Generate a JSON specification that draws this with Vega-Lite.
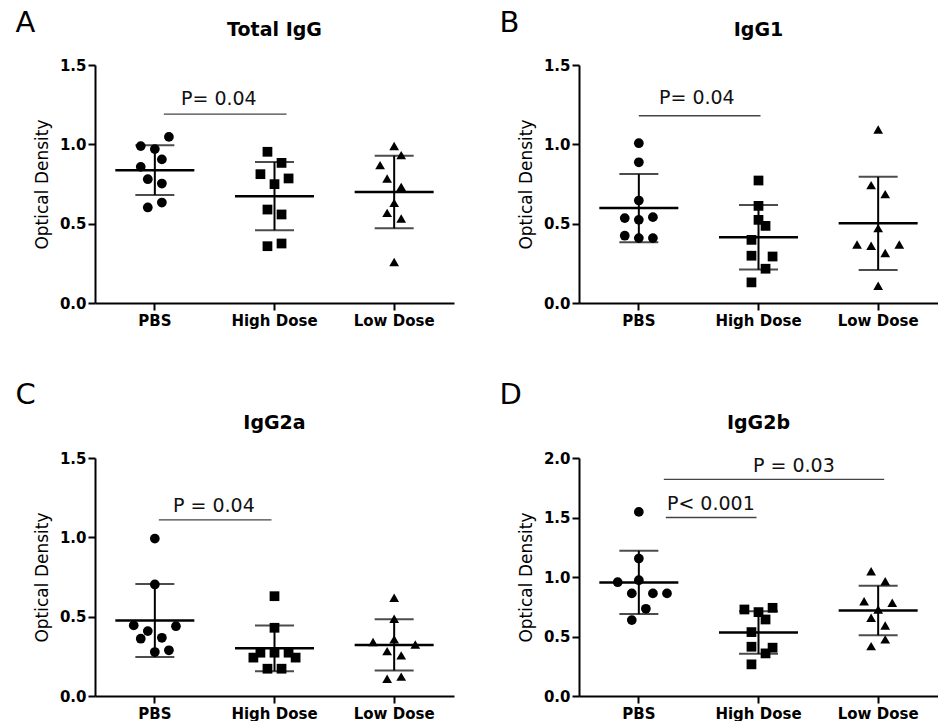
{
  "$schema": "https://vega.github.io/schema/vega-lite/v6.json",
  "padding": {"left": 15, "top": 9, "right": 0, "bottom": 0},
  "background": "white",
  "datasets": {
    "A": [
      {"group": "PBS", "slot": 2, "od": 1.047}, {"group": "PBS", "slot": -2, "od": 0.989}, {"group": "PBS", "slot": 0, "od": 0.970},
      {"group": "PBS", "slot": 1, "od": 0.905}, {"group": "PBS", "slot": -2, "od": 0.858}, {"group": "PBS", "slot": -1, "od": 0.780},
      {"group": "PBS", "slot": 1, "od": 0.753}, {"group": "PBS", "slot": -1, "od": 0.602}, {"group": "PBS", "slot": 1, "od": 0.633},
      {"group": "High Dose", "slot": -1, "od": 0.953}, {"group": "High Dose", "slot": 1, "od": 0.883}, {"group": "High Dose", "slot": -2, "od": 0.812},
      {"group": "High Dose", "slot": 2, "od": 0.785}, {"group": "High Dose", "slot": 0, "od": 0.749}, {"group": "High Dose", "slot": -1, "od": 0.589},
      {"group": "High Dose", "slot": 1, "od": 0.558}, {"group": "High Dose", "slot": -1, "od": 0.358}, {"group": "High Dose", "slot": 1, "od": 0.375},
      {"group": "Low Dose", "slot": 0, "od": 0.989}, {"group": "Low Dose", "slot": 1, "od": 0.932}, {"group": "Low Dose", "slot": -2, "od": 0.869},
      {"group": "Low Dose", "slot": -1, "od": 0.785}, {"group": "Low Dose", "slot": 1, "od": 0.732}, {"group": "Low Dose", "slot": 0, "od": 0.631},
      {"group": "Low Dose", "slot": -1, "od": 0.568}, {"group": "Low Dose", "slot": 1, "od": 0.532}, {"group": "Low Dose", "slot": 0, "od": 0.259}
    ],
    "B": [
      {"group": "PBS", "slot": 0, "od": 1.007}, {"group": "PBS", "slot": 0, "od": 0.887}, {"group": "PBS", "slot": 0, "od": 0.646},
      {"group": "PBS", "slot": -2, "od": 0.535}, {"group": "PBS", "slot": 0, "od": 0.524}, {"group": "PBS", "slot": 2, "od": 0.541},
      {"group": "PBS", "slot": -2, "od": 0.424}, {"group": "PBS", "slot": 0, "od": 0.409}, {"group": "PBS", "slot": 2, "od": 0.409},
      {"group": "High Dose", "slot": 0, "od": 0.772}, {"group": "High Dose", "slot": 0, "od": 0.612}, {"group": "High Dose", "slot": 0, "od": 0.524},
      {"group": "High Dose", "slot": 1, "od": 0.486}, {"group": "High Dose", "slot": -1, "od": 0.398}, {"group": "High Dose", "slot": -1, "od": 0.298},
      {"group": "High Dose", "slot": 2, "od": 0.293}, {"group": "High Dose", "slot": 1, "od": 0.216}, {"group": "High Dose", "slot": -1, "od": 0.130},
      {"group": "Low Dose", "slot": 0, "od": 1.094}, {"group": "Low Dose", "slot": -1, "od": 0.743}, {"group": "Low Dose", "slot": 1, "od": 0.686},
      {"group": "Low Dose", "slot": 0, "od": 0.472}, {"group": "Low Dose", "slot": -3, "od": 0.369}, {"group": "Low Dose", "slot": -1, "od": 0.361},
      {"group": "Low Dose", "slot": 3, "od": 0.369}, {"group": "Low Dose", "slot": 1, "od": 0.315}, {"group": "Low Dose", "slot": 0, "od": 0.109}
    ],
    "C": [
      {"group": "PBS", "slot": 0, "od": 0.992}, {"group": "PBS", "slot": 0, "od": 0.703}, {"group": "PBS", "slot": -3, "od": 0.445},
      {"group": "PBS", "slot": 3, "od": 0.440}, {"group": "PBS", "slot": -1, "od": 0.409}, {"group": "PBS", "slot": -2, "od": 0.361},
      {"group": "PBS", "slot": 1, "od": 0.367}, {"group": "PBS", "slot": 0, "od": 0.277}, {"group": "PBS", "slot": 2, "od": 0.288},
      {"group": "High Dose", "slot": 0, "od": 0.629}, {"group": "High Dose", "slot": 0, "od": 0.430}, {"group": "High Dose", "slot": -3, "od": 0.242},
      {"group": "High Dose", "slot": -2, "od": 0.273}, {"group": "High Dose", "slot": 0, "od": 0.273}, {"group": "High Dose", "slot": 2, "od": 0.273},
      {"group": "High Dose", "slot": 3, "od": 0.242}, {"group": "High Dose", "slot": -1, "od": 0.172}, {"group": "High Dose", "slot": 1, "od": 0.172},
      {"group": "Low Dose", "slot": 0, "od": 0.619}, {"group": "Low Dose", "slot": 0, "od": 0.487}, {"group": "Low Dose", "slot": -3, "od": 0.340},
      {"group": "Low Dose", "slot": 0, "od": 0.357}, {"group": "Low Dose", "slot": 3, "od": 0.325}, {"group": "Low Dose", "slot": -1, "od": 0.283},
      {"group": "Low Dose", "slot": 1, "od": 0.256}, {"group": "Low Dose", "slot": -1, "od": 0.109}, {"group": "Low Dose", "slot": 1, "od": 0.122}
    ],
    "D": [
      {"group": "PBS", "slot": 0, "od": 1.547}, {"group": "PBS", "slot": 0, "od": 1.155}, {"group": "PBS", "slot": -3, "od": 0.956},
      {"group": "PBS", "slot": 0, "od": 0.973}, {"group": "PBS", "slot": -1, "od": 0.862}, {"group": "PBS", "slot": 2, "od": 0.862},
      {"group": "PBS", "slot": 4, "od": 0.862}, {"group": "PBS", "slot": 1, "od": 0.733}, {"group": "PBS", "slot": -1, "od": 0.638},
      {"group": "High Dose", "slot": -2, "od": 0.727}, {"group": "High Dose", "slot": 0, "od": 0.705}, {"group": "High Dose", "slot": 2, "od": 0.741},
      {"group": "High Dose", "slot": 1, "od": 0.643}, {"group": "High Dose", "slot": -1, "od": 0.537}, {"group": "High Dose", "slot": -1, "od": 0.414},
      {"group": "High Dose", "slot": 2, "od": 0.406}, {"group": "High Dose", "slot": 1, "od": 0.358}, {"group": "High Dose", "slot": -1, "od": 0.266},
      {"group": "Low Dose", "slot": -1, "od": 1.049}, {"group": "Low Dose", "slot": 1, "od": 0.965}, {"group": "Low Dose", "slot": -2, "od": 0.797},
      {"group": "Low Dose", "slot": 2, "od": 0.784}, {"group": "Low Dose", "slot": 0, "od": 0.727}, {"group": "Low Dose", "slot": -1, "od": 0.658},
      {"group": "Low Dose", "slot": 1, "od": 0.593}, {"group": "Low Dose", "slot": -1, "od": 0.419}, {"group": "Low Dose", "slot": 1, "od": 0.476}
    ]
  },
  "vconcat": [
    {
      "hconcat": [
        {
          "title": {"text": "A", "anchor": "start", "fontSize": 29, "fontWeight": "normal", "offset": -17, "dx": -18},
          "vconcat": [
            {
              "width": 359, "height": 238,
              "title": {"text": "Total IgG", "fontSize": 19, "fontWeight": "bold", "offset": 18},
              "data": {"name": "A"},
              "encoding": {
                "x": {"field": "group", "type": "nominal", "sort": ["PBS", "High Dose", "Low Dose"], "scale": {"paddingInner": 0, "paddingOuter": 0}}
              },
              "layer": [
                {
                  "mark": {"type": "errorbar", "extent": "stdev", "ticks": {"size": 39, "thickness": 2, "color": "black"}, "rule": {"strokeWidth": 2, "color": "black"}},
                  "encoding": {"y": {"field": "od", "type": "quantitative", "scale": {"domain": [0, 1.5], "nice": false}, "axis": {"values": [0, 0.5, 1, 1.5], "format": ".1f", "title": "Optical Density"}}}
                },
                {
                  "mark": {"type": "tick", "size": 79, "thickness": 2.5, "color": "black"},
                  "encoding": {"y": {"aggregate": "mean", "field": "od", "type": "quantitative"}}
                },
                {
                  "mark": {"type": "point", "filled": true, "opacity": 1, "color": "black", "size": 95},
                  "encoding": {
                    "y": {"field": "od", "type": "quantitative"},
                    "xOffset": {"field": "slot", "type": "quantitative", "scale": {"domain": [-8.5, 8.5]}},
                    "shape": {"field": "group", "type": "nominal", "scale": {"domain": ["PBS", "High Dose", "Low Dose"], "range": ["circle", "square", "triangle-up"]}, "legend": null}
                  }
                },
                {
                  "data": {"values": [{"label": "P= 0.04"}]},
                  "mark": {"type": "rule", "strokeWidth": 1.3, "color": "#444444", "xOffset": 9, "x2Offset": 12},
                  "encoding": {"x": {"datum": "PBS"}, "x2": {"datum": "High Dose"}, "y": {"datum": 1.19}}
                },
                {
                  "data": {"values": [{"label": "P= 0.04"}]},
                  "mark": {"type": "text", "fontSize": 19, "baseline": "bottom", "dx": 64, "dy": -5, "color": "#111111"},
                  "encoding": {"x": {"datum": "PBS"}, "y": {"datum": 1.19}, "text": {"field": "label"}}
                }
              ]
            }
          ]
        },
        {
          "title": {"text": "B", "anchor": "start", "fontSize": 29, "fontWeight": "normal", "offset": -17, "dx": -18},
          "vconcat": [
            {
              "width": 359, "height": 238,
              "title": {"text": "IgG1", "fontSize": 19, "fontWeight": "bold", "offset": 18},
              "data": {"name": "B"},
              "encoding": {
                "x": {"field": "group", "type": "nominal", "sort": ["PBS", "High Dose", "Low Dose"], "scale": {"paddingInner": 0, "paddingOuter": 0}}
              },
              "layer": [
                {
                  "mark": {"type": "errorbar", "extent": "stdev", "ticks": {"size": 39, "thickness": 2, "color": "black"}, "rule": {"strokeWidth": 2, "color": "black"}},
                  "encoding": {"y": {"field": "od", "type": "quantitative", "scale": {"domain": [0, 1.5], "nice": false}, "axis": {"values": [0, 0.5, 1, 1.5], "format": ".1f", "title": "Optical Density"}}}
                },
                {
                  "mark": {"type": "tick", "size": 79, "thickness": 2.5, "color": "black"},
                  "encoding": {"y": {"aggregate": "mean", "field": "od", "type": "quantitative"}}
                },
                {
                  "mark": {"type": "point", "filled": true, "opacity": 1, "color": "black", "size": 95},
                  "encoding": {
                    "y": {"field": "od", "type": "quantitative"},
                    "xOffset": {"field": "slot", "type": "quantitative", "scale": {"domain": [-8.5, 8.5]}},
                    "shape": {"field": "group", "type": "nominal", "scale": {"domain": ["PBS", "High Dose", "Low Dose"], "range": ["circle", "square", "triangle-up"]}, "legend": null}
                  }
                },
                {
                  "data": {"values": [{"label": "P= 0.04"}]},
                  "mark": {"type": "rule", "strokeWidth": 1.3, "color": "#444444", "xOffset": 0, "x2Offset": 2},
                  "encoding": {"x": {"datum": "PBS"}, "x2": {"datum": "High Dose"}, "y": {"datum": 1.18}}
                },
                {
                  "data": {"values": [{"label": "P= 0.04"}]},
                  "mark": {"type": "text", "fontSize": 19, "baseline": "bottom", "dx": 58, "dy": -8, "color": "#111111"},
                  "encoding": {"x": {"datum": "PBS"}, "y": {"datum": 1.18}, "text": {"field": "label"}}
                }
              ]
            }
          ]
        }
      ],
      "spacing": 45
    },
    {
      "hconcat": [
        {
          "title": {"text": "C", "anchor": "start", "fontSize": 29, "fontWeight": "normal", "offset": 4, "dx": -18},
          "vconcat": [
            {
              "width": 359, "height": 238,
              "title": {"text": "IgG2a", "fontSize": 19, "fontWeight": "bold", "offset": 18},
              "data": {"name": "C"},
              "encoding": {
                "x": {"field": "group", "type": "nominal", "sort": ["PBS", "High Dose", "Low Dose"], "scale": {"paddingInner": 0, "paddingOuter": 0}}
              },
              "layer": [
                {
                  "mark": {"type": "errorbar", "extent": "stdev", "ticks": {"size": 39, "thickness": 2, "color": "black"}, "rule": {"strokeWidth": 2, "color": "black"}},
                  "encoding": {"y": {"field": "od", "type": "quantitative", "scale": {"domain": [0, 1.5], "nice": false}, "axis": {"values": [0, 0.5, 1, 1.5], "format": ".1f", "title": "Optical Density"}}}
                },
                {
                  "mark": {"type": "tick", "size": 79, "thickness": 2.5, "color": "black"},
                  "encoding": {"y": {"aggregate": "mean", "field": "od", "type": "quantitative"}}
                },
                {
                  "mark": {"type": "point", "filled": true, "opacity": 1, "color": "black", "size": 95},
                  "encoding": {
                    "y": {"field": "od", "type": "quantitative"},
                    "xOffset": {"field": "slot", "type": "quantitative", "scale": {"domain": [-8.5, 8.5]}},
                    "shape": {"field": "group", "type": "nominal", "scale": {"domain": ["PBS", "High Dose", "Low Dose"], "range": ["circle", "square", "triangle-up"]}, "legend": null}
                  }
                },
                {
                  "data": {"values": [{"label": "P = 0.04"}]},
                  "mark": {"type": "rule", "strokeWidth": 1.3, "color": "#444444", "xOffset": 4, "x2Offset": -3},
                  "encoding": {"x": {"datum": "PBS"}, "x2": {"datum": "High Dose"}, "y": {"datum": 1.11}}
                },
                {
                  "data": {"values": [{"label": "P = 0.04"}]},
                  "mark": {"type": "text", "fontSize": 19, "baseline": "bottom", "dx": 59, "dy": -4, "color": "#111111"},
                  "encoding": {"x": {"datum": "PBS"}, "y": {"datum": 1.11}, "text": {"field": "label"}}
                }
              ]
            }
          ]
        },
        {
          "title": {"text": "D", "anchor": "start", "fontSize": 29, "fontWeight": "normal", "offset": 4, "dx": -18},
          "vconcat": [
            {
              "width": 359, "height": 238,
              "title": {"text": "IgG2b", "fontSize": 19, "fontWeight": "bold", "offset": 18},
              "data": {"name": "D"},
              "encoding": {
                "x": {"field": "group", "type": "nominal", "sort": ["PBS", "High Dose", "Low Dose"], "scale": {"paddingInner": 0, "paddingOuter": 0}}
              },
              "layer": [
                {
                  "mark": {"type": "errorbar", "extent": "stdev", "ticks": {"size": 39, "thickness": 2, "color": "black"}, "rule": {"strokeWidth": 2, "color": "black"}},
                  "encoding": {"y": {"field": "od", "type": "quantitative", "scale": {"domain": [0, 2], "nice": false}, "axis": {"values": [0, 0.5, 1, 1.5, 2], "format": ".1f", "title": "Optical Density"}}}
                },
                {
                  "mark": {"type": "tick", "size": 79, "thickness": 2.5, "color": "black"},
                  "encoding": {"y": {"aggregate": "mean", "field": "od", "type": "quantitative"}}
                },
                {
                  "mark": {"type": "point", "filled": true, "opacity": 1, "color": "black", "size": 95},
                  "encoding": {
                    "y": {"field": "od", "type": "quantitative"},
                    "xOffset": {"field": "slot", "type": "quantitative", "scale": {"domain": [-8.5, 8.5]}},
                    "shape": {"field": "group", "type": "nominal", "scale": {"domain": ["PBS", "High Dose", "Low Dose"], "range": ["circle", "square", "triangle-up"]}, "legend": null}
                  }
                },
                {
                  "data": {"values": [{"label": "P< 0.001"}]},
                  "mark": {"type": "rule", "strokeWidth": 1.3, "color": "#444444", "xOffset": 27, "x2Offset": -2},
                  "encoding": {"x": {"datum": "PBS"}, "x2": {"datum": "High Dose"}, "y": {"datum": 1.5}}
                },
                {
                  "data": {"values": [{"label": "P< 0.001"}]},
                  "mark": {"type": "text", "fontSize": 19, "baseline": "bottom", "dx": 72, "dy": -4, "color": "#111111"},
                  "encoding": {"x": {"datum": "PBS"}, "y": {"datum": 1.5}, "text": {"field": "label"}}
                },
                {
                  "data": {"values": [{"label": "P = 0.03"}]},
                  "mark": {"type": "rule", "strokeWidth": 1.3, "color": "#444444", "xOffset": 25, "x2Offset": 6},
                  "encoding": {"x": {"datum": "PBS"}, "x2": {"datum": "Low Dose"}, "y": {"datum": 1.82}}
                },
                {
                  "data": {"values": [{"label": "P = 0.03"}]},
                  "mark": {"type": "text", "fontSize": 19, "baseline": "bottom", "dx": 155, "dy": -3, "color": "#111111"},
                  "encoding": {"x": {"datum": "PBS"}, "y": {"datum": 1.82}, "text": {"field": "label"}}
                }
              ]
            }
          ]
        }
      ],
      "spacing": 45
    }
  ],
  "spacing": 53,
  "config": {
    "font": "DejaVu Sans",
    "view": {"stroke": null},
    "title": {"font": "DejaVu Sans", "color": "black"},
    "axis": {
      "domainColor": "black", "domainWidth": 2, "tickColor": "black", "tickWidth": 2, "tickSize": 7,
      "labelColor": "black", "labelFont": "DejaVu Sans", "labelFontSize": 15, "labelFontWeight": "bold",
      "grid": false, "titleFont": "DejaVu Sans", "titleFontWeight": "normal", "titleFontSize": 17, "titleColor": "black"
    },
    "axisX": {"labelAngle": 0, "title": null, "labelPadding": 3},
    "axisY": {"titlePadding": 8, "labelPadding": 2}
  }
}
